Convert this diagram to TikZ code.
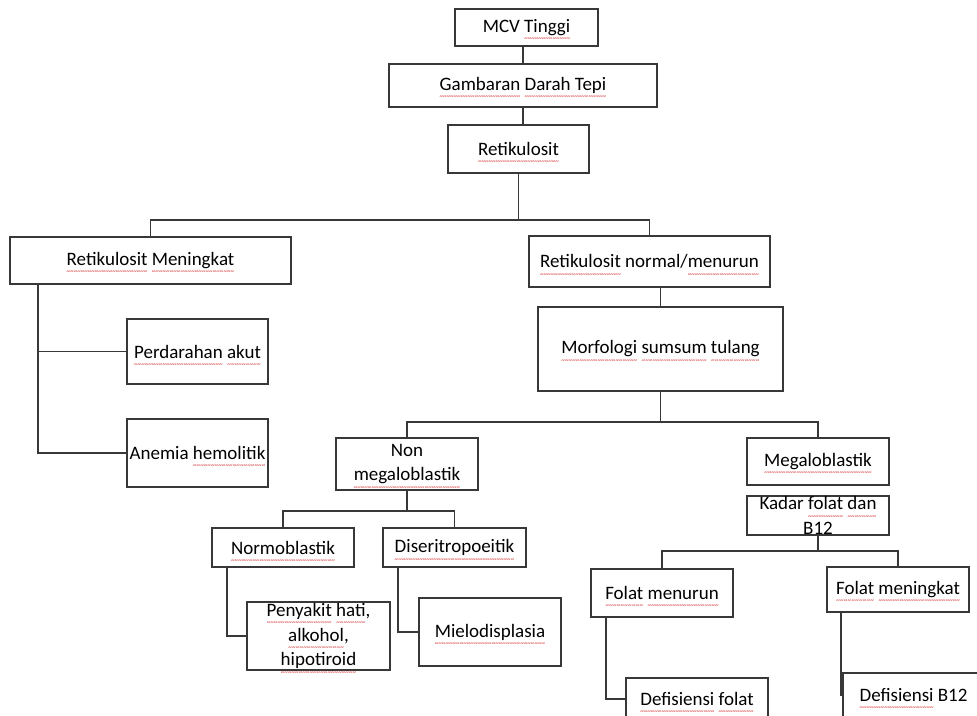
\documentclass[tikz,border=0pt]{standalone}
\usepackage{fontspec}
\setmainfont{Carlito}
\usetikzlibrary{calc}
\tikzstyle{kotak}=[draw=black!78, line width=1.1pt, inner sep=0pt]
\tikzstyle{garis}=[draw=black!78, line width=1.1pt]
\tikzstyle{teks}=[align=center, inner sep=0pt, text=black, font=\fontsize{13.5}{17.5}\selectfont]
% red spell-check wave under a word
\newcommand{\salah}[1]{\setbox0\hbox{#1}\rlap{\smash{\raisebox{-6pt}{\textcolor{red!80!black}{\hbox to \wd0{\xleaders\hbox{\fontsize{5}{5}\selectfont\char"7E}\hfil}}}}}\box0\relax}
\newcommand{\boks}[6]{% name, left, top, right, bottom, text
  \node[kotak, minimum width={(#4-#2)*0.025cm}, minimum height={(#5-#3)*0.025cm},
    label={[teks]center:{#6}}] (#1) at ({(#2+#4)/2},{(#3+#5)/2}) {};
}

\begin{document}
\begin{tikzpicture}[x=0.025cm, y=-0.025cm]
	\useasboundingbox (0,0) rectangle (977,715);
	\clip (0,0) rectangle (977,715);
	\boks{mcv}{455}{9}{598}{46}{MCV \salah{Tinggi}}
	\boks{gdt}{389}{64}{657}{107}{\salah{Gambaran} \salah{Darah Tepi}}
	\boks{retik}{448}{125}{589}{173}{\salah{Retikulosit}}
	\boks{rmen}{10}{237}{291}{284}{\salah{Retikulosit} \salah{Meningkat}}
	\boks{pa}{127}{319}{268}{384}{\salah{Perdarahan} \salah{akut}}
	\boks{ah}{127}{419}{268}{487}{Anemia \salah{hemolitik}}
	\boks{rnm}{529}{236}{770}{287}{\salah{Retikulosit} normal/\salah{menurun}}
	\boks{morf}{538}{307}{783}{391}{\salah{Morfologi} \salah{sumsum} \salah{tulang}}
	\boks{nonm}{336}{438}{478}{490}{Non\\\salah{megaloblastik}}
	\boks{mega}{747}{438}{889}{485}{\salah{Megaloblastik}}
	\boks{kadar}{747}{496}{889}{535}{Kadar \salah{folat} \salah{dan}\\B12}
	\boks{normo}{212}{528}{354}{567}{\salah{Normoblastik}}
	\boks{diser}{383}{528}{526}{567}{\salah{Diseritropoeitik}}
	\boks{phati}{247}{602}{390}{670}{\salah{Penyakit} \salah{hati},\\\salah{alkohol},\\\salah{hipotiroid}}
	\boks{mielo}{419}{598}{561}{666}{\salah{Mielodisplasia}}
	\boks{fmen}{591}{569}{733}{617}{\salah{Folat} \salah{menurun}}
	\boks{fmin}{827}{567}{969}{612}{\salah{Folat} \salah{meningkat}}
	\boks{dfol}{626}{678}{768}{720}{\salah{Defisiensi} \salah{folat}}
	\boks{db12}{843}{673}{984}{717}{\salah{Defisiensi} B12}
	% junction levels
	\coordinate (j1) at (0,220);
	\coordinate (j2) at (0,422);
	\coordinate (j3) at (0,511);
	\coordinate (j4) at (0,551);
	\coordinate (kiri) at (38,284);
	\coordinate (n1) at (227,567);
	\coordinate (d1) at (398,567);
	\coordinate (f1) at (606,617);
	\coordinate (f2) at (841,612);
	\draw[garis] (mcv.south -| gdt.north) -- (gdt.north);
	\draw[garis] (gdt.south) -- (gdt.south |- retik.north);
	\draw[garis] (retik.south) -- (retik.south |- j1);
	\draw[garis] (rmen.north) -- (rmen.north |- j1) -| (rnm.north);
	\draw[garis] (kiri) |- (ah.west);
	\draw[garis] (kiri |- pa.west) -- (pa.west);
	\draw[garis] (rnm.south -| morf.north) -- (morf.north);
	\draw[garis] (morf.south) -- (morf.south |- j2);
	\draw[garis] (nonm.north) -- (nonm.north |- j2) -| (mega.north);
	\draw[garis] (nonm.south) -- (nonm.south |- j3);
	\draw[garis] (normo.north) -- (normo.north |- j3) -| (diser.north);
	\draw[garis] (kadar.south) -- (kadar.south |- j4);
	\draw[garis] (fmen.north) -- (fmen.north |- j4) -| (fmin.north);
	\draw[garis] (n1) |- (phati.west);
	\draw[garis] (d1) |- (mielo.west);
	\draw[garis] (f1) |- (dfol.west);
	\draw[garis] (f2) |- (db12.west);
\end{tikzpicture}
\end{document}
